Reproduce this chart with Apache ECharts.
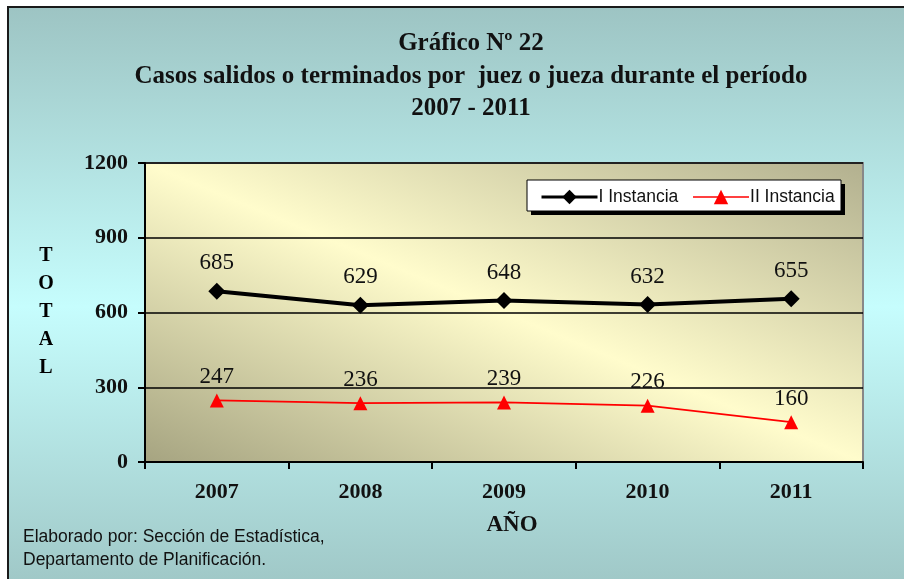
<!DOCTYPE html>
<html>
<head>
<meta charset="utf-8">
<script src="https://cdn.jsdelivr.net/npm/echarts@6/dist/echarts.min.js"></script>
<style>
html,body{margin:0;padding:0;background:#fff;}
#c{width:904px;height:579px;}
</style>
</head>
<body>
<div id="c"></div>
<script>
const categories = ['2007', '2008', '2009', '2010', '2011'];
const instancia1 = [685, 629, 648, 632, 655];
const instancia2 = [247, 236, 239, 226, 160];
const yTicks = [0, 300, 600, 900, 1200];
const seriesNames = ['I Instancia', 'II Instancia'];
const titleLines = ['Gráfico Nº 22', 'Casos salidos o terminados por  juez o jueza durante el período', '2007 - 2011'];

const chart = echarts.init(document.getElementById('c'), null, {renderer: 'canvas'});
const serif = '"Liberation Serif", "Times New Roman", serif';
const sans = '"Liberation Sans", Arial, sans-serif';

const option = {
  animation: false,
  backgroundColor: '#ffffff',
  graphic: [
    {
      type: 'rect', z: -10, silent: true,
      shape: {x: 8, y: 7, width: 910, height: 600},
      style: {
        fill: new echarts.graphic.LinearGradient(0, 0, 0, 1, [
          {offset: 0, color: '#9dc4c3'},
          {offset: 0.5, color: '#c6fdfd'},
          {offset: 1, color: '#9cc3c2'}
        ]),
        stroke: '#1a1a1a', lineWidth: 2
      }
    },
    {
      type: 'group', z: 10,
      children: titleLines.map((t, i) => ({
        type: 'text',
        x: 471, y: 44 + i * 32.5,
        style: {text: t, font: 'bold 25px ' + serif, fill: '#111', align: 'center', verticalAlign: 'middle'}
      }))
    },
    {
      type: 'group', left: 23, top: 528, z: 10,
      children: [
        {type: 'text', style: {text: 'Elaborado por: Sección de Estadística,', font: '17.5px ' + sans, fill: '#111'}, x: 0, y: 0},
        {type: 'text', style: {text: 'Departamento de Planificación.', font: '17.5px ' + sans, fill: '#111'}, x: 0, y: 23}
      ]
    },
    {
      type: 'group', z: 10,
      children: ['T', 'O', 'T', 'A', 'L'].map((ch, i) => ({
        type: 'text',
        x: 46, y: 256 + i * 28,
        style: {text: ch, font: 'bold 20px ' + serif, fill: '#000', align: 'center', verticalAlign: 'middle'}
      }))
    },
    {
      type: 'text', z: 10,
      x: 512, y: 525,
      style: {text: 'AÑO', font: 'bold 23px ' + serif, fill: '#111', align: 'center', verticalAlign: 'middle'}
    },
    {
      type: 'rect', z: 5, silent: true,
      shape: {x: 531, y: 184, width: 314, height: 31},
      style: {fill: '#000'}
    },
    {
      type: 'rect', z: 6, silent: true,
      shape: {x: 527, y: 180, width: 314, height: 31},
      style: {fill: '#fff', stroke: '#000', lineWidth: 1}
    }
  ],
  legend: {
    top: 183, left: 535,
    z: 20,
    itemWidth: 56, itemHeight: 18, itemGap: 14,
    textStyle: {fontFamily: sans, fontSize: 17.5, color: '#111', padding: [0, 0, 0, -4]},
    data: [
      {name: seriesNames[0], lineStyle: {width: 3}},
      {name: seriesNames[1], lineStyle: {width: 1.5}}
    ]
  },
  grid: {
    left: 145, right: 41, top: 163, bottom: 117,
    show: true,
    borderColor: '#888', borderWidth: 2,
    backgroundColor: new echarts.graphic.LinearGradient(398, 567, 610, 58, [
      {offset: 0, color: '#a6a481'},
      {offset: 0.5, color: '#fffccc'},
      {offset: 1, color: '#b2b08f'}
    ], true)
  },
  xAxis: {
    type: 'category',
    data: categories,
    boundaryGap: true,
    axisLine: {lineStyle: {color: '#000', width: 2}},
    axisTick: {show: true, length: 7, lineStyle: {color: '#000', width: 2}},
    axisLabel: {fontFamily: serif, fontWeight: 'bold', fontSize: 22, color: '#111', margin: 19}
  },
  yAxis: {
    type: 'value',
    min: 0, max: 1200, interval: 300,
    axisLine: {show: true, lineStyle: {color: '#000', width: 2}},
    axisTick: {show: true, inside: false, length: 7, lineStyle: {color: '#000', width: 2}},
    axisLabel: {fontFamily: serif, fontWeight: 'bold', fontSize: 22, color: '#111', margin: 17,
      formatter: v => yTicks.includes(v) ? String(v) : ''},
    splitLine: {show: true, lineStyle: {color: '#000', width: 1.5}}
  },
  series: [
    {
      name: seriesNames[0],
      type: 'line',
      data: instancia1,
      symbol: 'diamond',
      symbolSize: 17,
      itemStyle: {color: '#000'},
      lineStyle: {color: '#000', width: 4},
      label: {show: true, position: 'top', distance: 8, fontFamily: serif, fontSize: 23, color: '#111'},
      z: 4
    },
    {
      name: seriesNames[1],
      type: 'line',
      data: instancia2,
      symbol: 'triangle',
      symbolSize: 14,
      itemStyle: {color: '#ff0000'},
      lineStyle: {color: '#ff0000', width: 1.8},
      label: {show: true, position: 'top', distance: 5, fontFamily: serif, fontSize: 23, color: '#111'},
      z: 3
    }
  ]
};
chart.setOption(option);
</script>
</body>
</html>
